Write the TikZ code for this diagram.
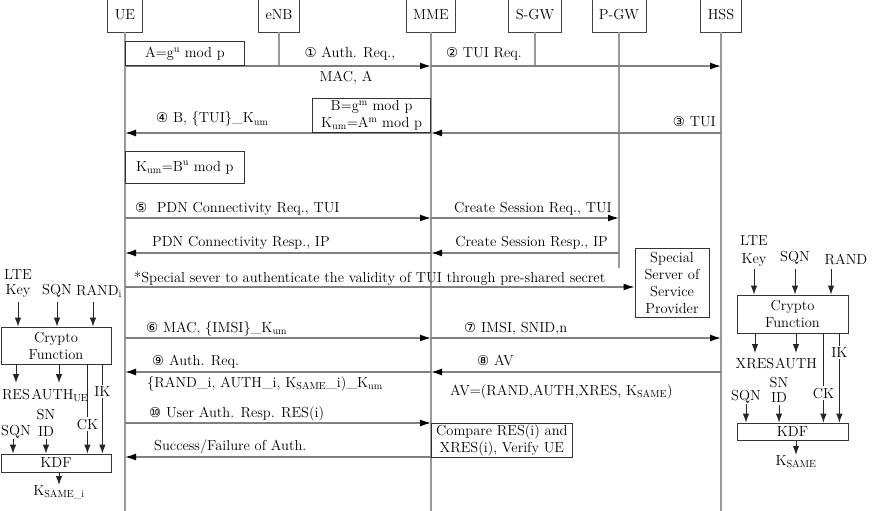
\documentclass[tikz,border=0pt]{standalone}
\usepackage{fontspec}
\newfontfamily\cnfont{DejaVu Sans}
\usetikzlibrary{arrows.meta,positioning,calc}
\newcommand\cn[1]{{\cnfont\fontsize{13.5}{14}\selectfont#1}}
\newcommand\dfont{\fontsize{14.5}{17}\selectfont}
\newcommand\Kum{K\textsubscript{um}}
\newcommand\Ks{K\textsubscript{SAME}}
\tikzset{hdr/.style={draw=black!75,line width=.8pt,minimum height=34pt,inner xsep=7pt},
  life/.style={draw=black!40,line width=2pt},
  msg/.style={draw=black!50,line width=1.4pt,-{Latex[length=11pt,width=7pt,color=black]}},
  box/.style={draw=black!80,line width=.8pt,fill=white,align=center,inner sep=0pt},
  lbl/.style={inner sep=0pt},
  kin/.style={inner sep=0pt,align=center,font=\fontsize{14.5}{15}\selectfont},
  arr/.style={draw=black!85,line width=.9pt,-{Latex[length=9pt,width=6.5pt]}},
  cut/.style={fill=white,inner sep=1.5pt}}
\begin{document}
\begin{tikzpicture}[x=1pt,y=-1pt,font=\dfont]
\clip (0,0) rectangle (879,511);
\node[hdr] (ue) at (125,15) {UE};
\node[hdr] (enb) at (279,15) {eNB};
\node[hdr] (mme) at (431,15) {MME};
\node[hdr] (sgw) at (535,15) {S-GW};
\node[hdr] (pgw) at (619,15) {P-GW};
\node[hdr] (hss) at (721,15) {HSS};
\foreach \n/\y in {a/66,b/133,c/218,d/253,e/287,f/338,g/372,h/423,k/457,pe/268,bot/511}
  \coordinate (\n) at (0,\y);
\foreach \s in {ue,mme,hss} \draw[life] (\s.south) -- (\s |- bot);
\draw[life] (enb.south) -- (enb |- a);
\draw[life] (sgw.south) -- (sgw |- a);
\draw[life] (pgw.south) -- (pgw |- pe);
\node[box,minimum width=74pt,minimum height=69pt] (ssp) at (672,282.5) {Special\\Server of\\Service\\Provider};
\draw[msg] (ue |- a) -- (mme |- a);
\draw[msg] (mme |- a) -- (hss |- a);
\draw[msg] (hss |- b) -- (mme |- b);
\draw[msg] (mme |- b) -- (ue |- b);
\draw[msg] (ue |- c) -- (mme |- c);
\draw[msg] (mme |- c) -- (pgw |- c);
\draw[msg] (mme |- d) -- (ue |- d);
\draw[msg] (pgw |- d) -- (mme |- d);
\draw[msg] (ue |- e) -- (ssp.west |- e);
\draw[msg] (ue |- f) -- (mme |- f);
\draw[msg] (mme |- f) -- (hss |- f);
\draw[msg] (hss |- g) -- (mme |- g);
\draw[msg] (mme |- g) -- (ue |- g);
\draw[msg] (ue |- h) -- (mme |- h);
\draw[msg] (mme |- k) -- (ue |- k);
\node[box,minimum width=119pt,minimum height=24pt,anchor=south west] (ga) at (ue |- a) {A=g\textsuperscript{u} mod p};
\node[box,minimum width=118pt,minimum height=34pt,anchor=south east] (gb) at (mme |- b) {B=g\textsuperscript{m} mod p\\\Kum=A\textsuperscript{m} mod p};
\node[box,minimum width=119pt,minimum height=32pt,below=85pt of ga.south west,anchor=north west] (kb) {\Kum=B\textsuperscript{u} mod p};
\node[box,minimum width=141pt,minimum height=34pt,anchor=north west] (cmp) at (mme |- h) {Compare RES(i) and\\XRES(i), Verify UE};
\node[lbl,anchor=base] (m1) at (350,58) {\cn{①} Auth. Req.,};
\node[lbl,anchor=base] (m1b) at (346,82) {MAC, A};
\node[lbl,anchor=base] (m2) at (484,58) {\cn{②} TUI Req.};
\node[lbl,anchor=base east] (m3) at (716,127) {\cn{③} TUI};
\node[lbl,anchor=base west] (m4) at (156,123) {\cn{④} B, \{TUI\}\_\Kum};
\node[lbl,anchor=base west] (m5) at (135,212) {\cn{⑤}\ \ PDN Connectivity Req., TUI};
\node[lbl,anchor=base east] (m5b) at (612,212) {Create Session Req., TUI};
\node[lbl,anchor=base west] (m6) at (152,246) {PDN Connectivity Resp., IP};
\node[lbl,anchor=base east] (m6b) at (608,246) {Create Session Resp., IP};
\node[lbl,anchor=base west] (m7) at (134,282) {*Special sever to authenticate the validity of TUI through pre-shared secret};
\node[lbl,anchor=base west] (m8) at (146,332) {\cn{⑥} MAC, \{IMSI\}\_\Kum};
\node[lbl,anchor=base west] (m8b) at (464,332) {\cn{⑦} IMSI, SNID,n};
\node[lbl,anchor=base west] (m9) at (477,365) {\cn{⑧} AV};
\node[lbl,anchor=base west] (m9b) at (450,395) {AV=(RAND,AUTH,XRES, \Ks)};
\node[lbl,anchor=base west] (m10) at (152,365) {\cn{⑨} Auth. Req.};
\node[lbl,anchor=base west] (m10b) at (147,387) {\{RAND\_i, AUTH\_i, \Ks\_i)\_\Kum};
\node[lbl,anchor=base west] (m11) at (149,417) {\cn{⑩} User Auth. Resp. RES(i)};
\node[lbl,anchor=base west] (m12) at (154,450) {Success/Failure of Auth.};
% UE side key derivation
\node[box,minimum width=110pt,minimum height=37pt] (cf1) at (56,345.5) {Crypto\\Function};
\node[box,minimum width=110pt,minimum height=18pt] (kdf1) at (56,463) {KDF};
\node[kin,anchor=south] (lk1) at (18,298) {LTE\\Key};
\node[kin,anchor=south] (sq1) at (57,298) {SQN};
\node[kin,anchor=south] (rd1) at (99,298) {RAND\textsubscript{i}};
\draw[arr,shorten <=4pt] (lk1.south) -- (lk1.south |- cf1.north);
\draw[arr,shorten <=4pt] (sq1.south) -- (sq1.south |- cf1.north);
\draw[arr,shorten <=4pt] ([xshift=-6pt]rd1.south) -- ([xshift=-6pt]rd1.south |- cf1.north);
\node[kin,anchor=north] (rs1) at (16,389) {RES};
\node[kin,anchor=north] (au1) at (60,389) {AUTH\textsubscript{UE}};
\draw[arr,shorten >=6pt] (rs1.north |- cf1.south) -- (rs1.north);
\draw[arr,shorten >=6pt] ([xshift=-1pt]au1.north |- cf1.south) -- ([xshift=-1pt]au1.north);
\draw[arr] ([xshift=-24pt]cf1.south east) -- node[cut,pos=.67] (ck1) {CK} ([xshift=-24pt]kdf1.north east);
\draw[arr] ([xshift=-9pt]cf1.south east) -- node[cut,pos=.3] (ik1) {IK} ([xshift=-9pt]kdf1.north east);
\node[kin,anchor=south,font=\fontsize{14.5}{17}\selectfont] (sn1) at (46,437) {SN\\ID};
\node[kin,anchor=south] (sqb1) at (16,439) {SQN};
\draw[arr,shorten <=2pt] (sn1.south) -- (sn1.south |- kdf1.north);
\draw[arr] ([xshift=-3pt]sqb1.south) -- ([xshift=-3pt]sqb1.south |- kdf1.north);
\node[kin,anchor=north] (ks1) at (59,485) {K\textsubscript{SAME\_i}};
\draw[arr] (kdf1.south -| ks1.north) -- (ks1.north);
% HSS side key derivation
\node[box,minimum width=111pt,minimum height=38pt] (cf2) at (792.5,314) {Crypto\\Function};
\node[box,minimum width=111pt,minimum height=17pt] (kdf2) at (792.5,431.5) {KDF};
\node[kin,anchor=south,font=\fontsize{14.5}{18}\selectfont] (lk2) at (754,267) {LTE\\Key};
\node[kin,anchor=south] (sq2) at (795,265) {SQN};
\node[kin,anchor=south] (rd2) at (846,265) {RAND};
\draw[arr,shorten <=2pt] (lk2.south) -- (lk2.south |- cf2.north);
\draw[arr,shorten <=4pt] (sq2.south) -- (sq2.south |- cf2.north);
\draw[arr,shorten <=4pt] ([xshift=-15pt]rd2.south) -- ([xshift=-15pt]rd2.south |- cf2.north);
\node[kin,anchor=north] (xr2) at (755,358) {XRES};
\node[kin,anchor=north] (au2) at (796,358) {AUTH};
\draw[arr,shorten >=5pt] (xr2.north |- cf2.south) -- (xr2.north);
\draw[arr,shorten >=5pt] (au2.north |- cf2.south) -- (au2.north);
\draw[arr] ([xshift=-25pt]cf2.south east) -- node[cut,pos=.67] (ck2) {CK} ([xshift=-25pt]kdf2.north east);
\draw[arr] ([xshift=-9pt]cf2.south east) -- node[cut,pos=.21] (ik2) {IK} ([xshift=-9pt]kdf2.north east);
\node[kin,anchor=south] (sn2) at (779,403) {SN\\ID};
\node[kin,anchor=south] (sqb2) at (746,404) {SQN};
\draw[arr,shorten <=2pt] (sn2.south) -- (sn2.south |- kdf2.north);
\draw[arr] (sqb2.south) -- (sqb2.south |- kdf2.north);
\node[kin,anchor=north] (ks2) at (796,455) {\Ks};
\draw[arr] (kdf2.south -| ks2.north) -- (ks2.north);
\end{tikzpicture}
\end{document}
